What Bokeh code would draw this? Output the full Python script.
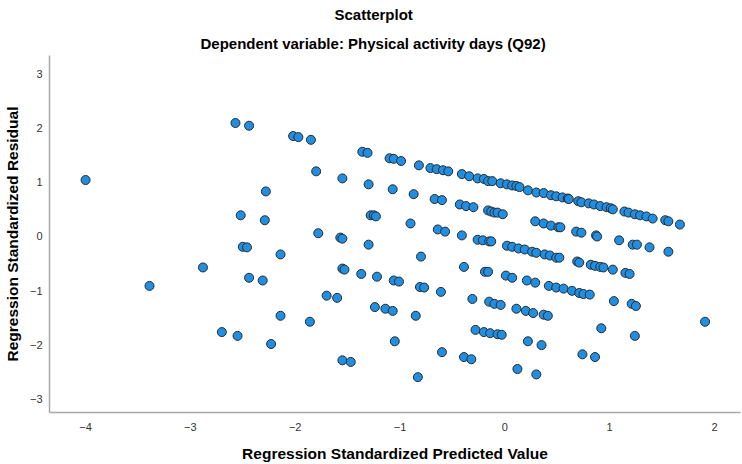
from bokeh.plotting import figure
from bokeh.models import Range1d, FixedTicker, Title, ColumnDataSource
from bokeh.embed import file_html
from bokeh.resources import INLINE

# Regression Standardized Predicted Value (x) and Residual (y)
pred = [
    -4.00, -3.39, -2.88, -2.57, -2.44, -2.02, -1.97, -1.85, -1.80, -2.28,
    -2.52, -2.29, -1.78, -2.50, -2.46, -2.14, -2.44, -2.31, -2.14, -1.86,
    -2.70, -2.55, -2.23,
    -1.36, -1.31, -1.10, -1.06, -0.99, -0.82, -0.71, -0.65, -0.59, -0.54,
    -0.41, -0.34, -0.26, -0.20, -0.16, -0.12, -0.04, 0.02, 0.07, 0.11, 0.14,
    -1.55, -1.30, -1.07, -0.87, -0.67, -0.60, -0.43, -0.37, -0.30, -0.16,
    -0.13, -0.10, -0.07, -0.02,
    -1.28, -1.25, -1.23, -0.90, -0.64, -0.57, -0.41, -0.26, -0.21, -0.15,
    -0.13, 0.02, 0.07, 0.13,
    -1.57, -1.55, -1.30, -0.80, -0.39, -0.19, -0.16, 0.01, 0.07,
    -1.55, -1.53, -1.37, -1.22, -1.06, -1.01, -0.81, -0.77, -0.61, -0.31,
    -0.15, -0.10, -0.04, 0.11,
    -1.70, -1.60, -1.24, -1.14, -1.07, -0.85, -0.28, -0.20, -0.14, -0.07, -0.03,
    -1.05, -0.60, -0.39, -0.32, -1.55, -1.47, -0.83, 0.12,
    0.22, 0.30, 0.37, 0.44, 0.49, 0.55, 0.60, 0.61, 0.70, 0.73, 0.80, 0.85,
    0.91, 0.97, 1.01, 1.03, 1.14, 1.18, 1.24, 1.29, 1.35, 1.41, 1.53, 1.56, 1.67,
    0.29, 0.37, 0.44, 0.51, 0.53, 0.68, 0.73, 0.87, 0.88, 1.09, 1.22, 1.26,
    1.38, 1.56,
    0.19, 0.26, 0.30, 0.38, 0.43, 0.49, 0.52, 0.69, 0.71, 0.82, 0.86, 0.91,
    0.94, 1.03, 1.15, 1.19,
    0.21, 0.29, 0.42, 0.49, 0.56, 0.64, 0.71, 0.75, 0.81, 1.04, 1.21, 1.25,
    0.20, 0.27, 0.37, 0.41, 0.92, 1.24, 1.91,
    0.22, 0.35, 0.74, 0.86, 0.30,
]
resid = [
    1.04, -0.91, -0.57, 2.09, 2.04, 1.85, 1.83, 1.78, 1.20, 0.83,
    0.39, 0.30, 0.06, -0.19, -0.20, -0.33, -0.76, -0.81, -1.46, -1.57,
    -1.76, -1.83, -1.98,
    1.56, 1.54, 1.44, 1.43, 1.39, 1.31, 1.26, 1.24, 1.22, 1.20,
    1.15, 1.11, 1.07, 1.06, 1.02, 1.02, 0.98, 0.96, 0.94, 0.93, 0.91,
    1.07, 0.96, 0.87, 0.78, 0.69, 0.67, 0.59, 0.56, 0.54, 0.48,
    0.46, 0.44, 0.44, 0.41,
    0.39, 0.39, 0.37, 0.24, 0.13, 0.09, 0.02, -0.06, -0.07, -0.09,
    -0.09, -0.17, -0.19, -0.22,
    -0.02, -0.04, -0.15, -0.37, -0.56, -0.65, -0.65, -0.72, -0.76,
    -0.59, -0.61, -0.69, -0.74, -0.81, -0.83, -0.93, -0.94, -1.02, -1.15,
    -1.20, -1.24, -1.26, -1.33,
    -1.09, -1.13, -1.30, -1.33, -1.37, -1.46, -1.72, -1.76, -1.78, -1.80, -1.81,
    -1.93, -2.13, -2.22, -2.26, -2.28, -2.31, -2.59, -2.44,
    0.85, 0.81, 0.80, 0.76, 0.74, 0.72, 0.70, 0.69, 0.65, 0.63, 0.61, 0.59,
    0.56, 0.54, 0.52, 0.50, 0.46, 0.44, 0.41, 0.39, 0.37, 0.33, 0.30, 0.28, 0.22,
    0.28, 0.24, 0.20, 0.17, 0.17, 0.09, 0.07, 0.02, 0.00, -0.07, -0.15, -0.15,
    -0.20, -0.28,
    -0.24, -0.28, -0.30, -0.33, -0.35, -0.39, -0.39, -0.46, -0.48, -0.52, -0.54, -0.56,
    -0.57, -0.61, -0.67, -0.69,
    -0.81, -0.85, -0.91, -0.94, -0.96, -1.00, -1.04, -1.06, -1.07, -1.19, -1.24, -1.28,
    -1.37, -1.41, -1.44, -1.46, -1.69, -1.83, -1.57,
    -1.93, -2.00, -2.17, -2.22, -2.54,
]
x_ticks = [-4, -3, -2, -1, 0, 1, 2]
y_ticks = [-3, -2, -1, 0, 1, 2, 3]

title_text = "Scatterplot"
subtitle_text = "Dependent variable: Physical activity days (Q92)"
x_label = "Regression Standardized Predicted Value"
y_label = "Regression Standardized Residual"

FONT = "Liberation Sans"

p = figure(width=742, height=464, output_backend="svg", toolbar_location=None,
           x_range=Range1d(-4.344, 2.248), y_range=Range1d(-3.241, 3.333),
           min_border_left=0, min_border_right=2, min_border_top=55, min_border_bottom=0,
           background_fill_color="white", border_fill_color="white")

# titles are centred on the whole page in the reference, not on the plot frame
p.title.text = title_text
p.title.align = "left"
p.title.offset = 285
p.title.vertical_align = "top"
p.title.text_font = FONT
p.title.text_font_size = "15px"
p.title.text_font_style = "bold"
p.title.text_color = "#000000"
p.title.standoff = 7

sub = Title(text=subtitle_text, align="left", offset=151, text_font=FONT,
            text_font_size="15px", text_font_style="bold", text_color="#000000",
            standoff=8)
p.add_layout(sub, "above")

p.outline_line_color = None
p.xgrid.grid_line_color = None
p.ygrid.grid_line_color = None

for ax in (p.xaxis[0], p.yaxis[0]):
    ax.axis_line_color = "#a8a8a8"
    ax.axis_line_width = 1.5
    ax.major_tick_line_color = None
    ax.minor_tick_line_color = None
    ax.major_tick_out = 0
    ax.major_tick_in = 0
    ax.major_label_text_font = FONT
    ax.major_label_text_font_size = "11px"
    ax.major_label_text_color = "#333333"
    ax.axis_label_text_font = FONT
    ax.axis_label_text_font_size = "15.5px"
    ax.axis_label_text_font_style = "bold"
    ax.axis_label_text_color = "#000000"

p.xaxis.ticker = FixedTicker(ticks=x_ticks)
p.yaxis.ticker = FixedTicker(ticks=y_ticks)
p.xaxis.axis_label = x_label
p.yaxis.axis_label = y_label
p.xaxis.major_label_standoff = 10
p.xaxis.axis_label_standoff = 11
p.yaxis.major_label_standoff = 7
p.yaxis.axis_label_standoff = 6

src = ColumnDataSource(dict(x=pred, y=resid))
p.scatter("x", "y", source=src, size=9, fill_color="#1f8fe3",
          line_color="#2a2a2a", line_width=1)

open("out.html", "w").write(file_html(p, INLINE))
